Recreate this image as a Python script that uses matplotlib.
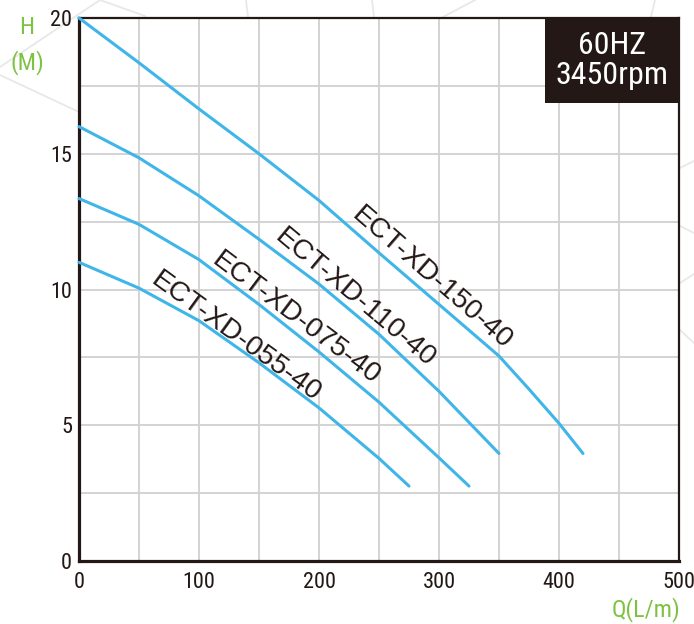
import matplotlib
matplotlib.use("Agg")
import matplotlib.pyplot as plt
from matplotlib.lines import Line2D
from matplotlib.patches import Rectangle
from matplotlib.ticker import MultipleLocator
from matplotlib import font_manager as fm

# ---- data ----
q_150 = [0, 50, 100, 150, 200, 250, 300, 350, 375, 400, 420]
h_150 = [20.0, 18.35, 16.65, 15.0, 13.28, 11.35, 9.45, 7.55, 6.33, 5.07, 3.96]

q_110 = [0, 50, 100, 150, 200, 250, 300, 350]
h_110 = [16.0, 14.85, 13.45, 11.85, 10.2, 8.35, 6.25, 3.96]

q_075 = [0, 50, 100, 150, 200, 250, 300, 325]
h_075 = [13.35, 12.4, 11.1, 9.45, 7.7, 5.85, 3.8, 2.76]

q_055 = [0, 50, 100, 150, 200, 250, 275]
h_055 = [11.0, 10.05, 8.85, 7.3, 5.64, 3.78, 2.76]

series_names = ["ECT-XD-150-40", "ECT-XD-110-40", "ECT-XD-075-40", "ECT-XD-055-40"]
label_pos = [(294, 10.4), (230, 9.7), (181, 8.95), (131, 8.25)]
label_rot = [-41, -40, -37, -36]

x_ticks = [0, 100, 200, 300, 400, 500]
y_ticks = [0, 5, 10, 15, 20]
info_text = "60HZ\n3450rpm"

# ---- fonts: prefer a condensed sans if one is installed ----
def find_condensed():
    best = None
    for f in fm.fontManager.ttflist:
        name = f.name
        st = f.stretch
        narrow = ("Narrow" in name or "Condensed" in name or "Cond" in name or
                  (isinstance(st, str) and "condensed" in st.lower() and "semi" not in st.lower()) or
                  (isinstance(st, (int, float)) and st <= 300))
        if narrow and f.style == "normal" and f.weight in (400, "normal", "regular"):
            if "Sans" in name or "Roboto" in name or "Open" in name or "Narrow" in name:
                best = f.fname
                if "Liberation" in name or "Noto" in name:
                    return f.fname
    return best

cond_path = find_condensed()
if cond_path:
    def nprop(size):
        return fm.FontProperties(fname=cond_path, size=size)
    tick_sz, title_sz, box_sz = 16, 17.5, 23
else:
    def nprop(size):
        return fm.FontProperties(family=["Liberation Sans", "DejaVu Sans"], size=size)
    tick_sz, title_sz, box_sz = 14.5, 15.5, 20

SANS = ["Liberation Sans", "DejaVu Sans"]
GREEN = "#7dc242"
BLUE = "#3fb5e8"
DARK = "#231815"

W, H = 694, 624
fig = plt.figure(figsize=(W / 100, H / 100), dpi=100)
fig.patch.set_facecolor("white")

def px(x, y):
    return (x / W, 1 - y / H)

# faint decorative background lines
deco = [((0, 67), (100, 0)), ((100, 0), (145, 16)), ((0, 75), (79, 112)),
        ((246, 0), (248, 17)), ((372, 0), (374, 17)), ((443, 17), (475, 0)),
        ((655, 0), (651, 17)), ((680, 168), (694, 161)), ((680, 226), (694, 233)),
        ((680, 283), (694, 274)), ((680, 330), (694, 343))]
for a, b in deco:
    pa, pb = px(*a), px(*b)
    fig.add_artist(Line2D([pa[0], pb[0]], [pa[1], pb[1]], transform=fig.transFigure,
                          color="#e8e8e8", lw=1.3, zorder=-5))

ax = fig.add_axes([79 / W, 1 - 561 / H, 600 / W, 543 / H])
ax.set_facecolor("white")
ax.set_xlim(0, 500)
ax.set_ylim(0, 20)

ax.xaxis.set_minor_locator(MultipleLocator(50))
ax.yaxis.set_minor_locator(MultipleLocator(2.5))
ax.set_xticks(x_ticks)
ax.set_yticks(y_ticks)
ax.grid(True, which="both", color="#d0d0d0", lw=1.3, zorder=0)
ax.set_axisbelow(True)
ax.tick_params(which="both", length=0)
ax.tick_params(axis="x", pad=8)
ax.tick_params(axis="y", pad=5)
for lab in ax.get_xticklabels() + ax.get_yticklabels():
    lab.set_fontproperties(nprop(tick_sz))
    lab.set_color(DARK)

for side in ["left", "bottom"]:
    ax.spines[side].set_linewidth(2.3)
    ax.spines[side].set_color(DARK)
for side in ["top", "right"]:
    ax.spines[side].set_linewidth(1.6)
    ax.spines[side].set_color(DARK)

for (qq, hh) in [(q_150, h_150), (q_110, h_110), (q_075, h_075), (q_055, h_055)]:
    ax.plot(qq, hh, color=BLUE, lw=2.2, solid_capstyle="round", solid_joinstyle="round",
            clip_on=False, zorder=3)

for name, (lx, ly), rot in zip(series_names, label_pos, label_rot):
    ax.text(lx, ly, name, rotation=rot, rotation_mode="anchor", ha="center", va="center",
            fontsize=20.5, family=SANS, color=DARK, zorder=4)

# info box
ax.add_patch(Rectangle((0.777, 0.8435), 0.223, 0.1565, transform=ax.transAxes,
                       facecolor=DARK, edgecolor="none", zorder=5, clip_on=False))
ax.text(0.8885, 0.922, info_text, transform=ax.transAxes, ha="center", va="center",
        fontproperties=nprop(box_sz), color="white", linespacing=1.05, zorder=6)

# axis titles
fig.text(*px(27, 28), "H", ha="center", va="center", fontproperties=nprop(title_sz), color=GREEN)
fig.text(*px(27, 63), "(M)", ha="center", va="center", fontproperties=nprop(title_sz), color=GREEN)
fig.text(*px(680, 610), "Q(L/m)", ha="right", va="center", fontproperties=nprop(title_sz), color=GREEN)

fig.savefig("out.png", dpi=100, facecolor="white")
